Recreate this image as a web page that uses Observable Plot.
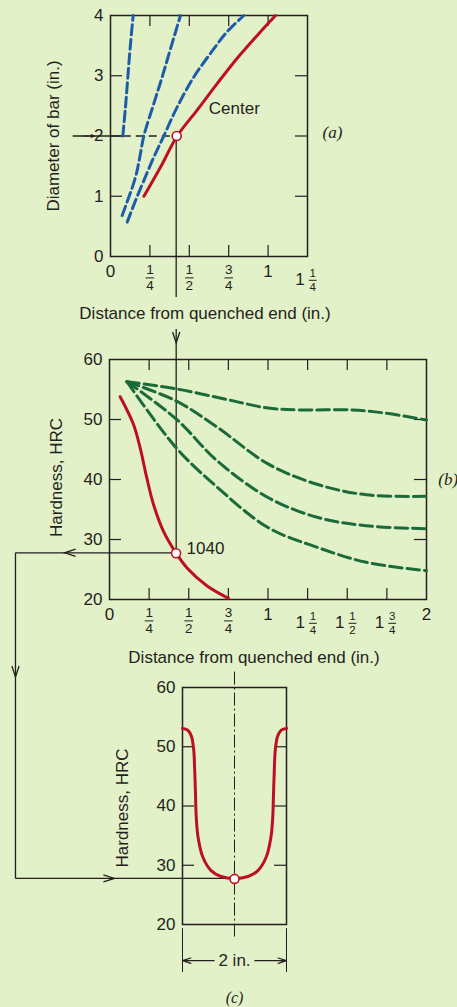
<!DOCTYPE html>
<html>
<head>
<meta charset="utf-8">
<script src="https://cdn.jsdelivr.net/npm/d3@7"></script>
<script src="https://cdn.jsdelivr.net/npm/@observablehq/plot@0.6"></script>
<style>
html, body { margin: 0; padding: 0; background: #E3F1C8; overflow: hidden; }
#wrap { position: relative; width: 457px; height: 1007px; background: #E3F1C8; overflow: hidden; }
#wrap svg.panel { position: absolute; left: 0; z-index: 1; }
#wrap svg.overlay { position: absolute; left: 0; top: 0; z-index: 0; }
</style>
</head>
<body>
<div id="wrap"></div>
<script>
// ---------------- DATA ----------------
// Panel (a): bar diameter (in.) vs equivalent Jominy distance (in.)
const aXTicks = [0, 0.25, 0.5, 0.75, 1, 1.25];
const aXLabels = ["0", "1/4", "1/2", "3/4", "1", "1 1/4"];
const aYTicks = [0, 1, 2, 3, 4];
const aInnerX = [0.25, 0.5, 0.75, 1];
const aInnerY = [1, 2, 3];
const aCenter = [[0.212, 1], [0.317, 1.48], [0.423, 2], [0.55, 2.43], [0.677, 2.87], [0.804, 3.29], [0.931, 3.67], [1.047, 4]];
const aBlue1 = [[0.078, 2.0], [0.095, 2.48], [0.110, 2.98], [0.127, 3.53], [0.144, 4]];
const aBlue2 = [[0.074, 0.68], [0.095, 0.83], [0.159, 1.32], [0.186, 1.65], [0.2115, 2], [0.275, 2.54], [0.328, 2.98], [0.381, 3.45], [0.444, 4]];
const aBlue3 = [[0.106, 0.57], [0.159, 0.93], [0.2115, 1.26], [0.275, 1.65], [0.338, 2], [0.423, 2.48], [0.529, 2.98], [0.634, 3.37], [0.74, 3.73], [0.846, 4]];
const aGuideDiameter = 2;
const aGuideDistance = 0.42;

// Panel (b): Jominy hardness curves
const bXTicks = [0, 0.25, 0.5, 0.75, 1, 1.25, 1.5, 1.75, 2];
const bXLabels = ["0", "1/4", "1/2", "3/4", "1", "1 1/4", "1 1/2", "1 3/4", "2"];
const bYTicks = [20, 30, 40, 50, 60];
const bInnerX = [0.25, 0.5, 0.75, 1, 1.25, 1.5, 1.75];
const bInnerY = [30, 40, 50];
const b1040 = [[0.0675, 53.8], [0.151, 49.2], [0.193, 45.3], [0.235, 40.3], [0.277, 35.9], [0.34, 31.4], [0.421, 27.7], [0.488, 25.3], [0.614, 22.3], [0.751, 20.2]];
const bAlloy1 = [[0.11, 56.3], [0.42, 55.1], [0.78, 53.1], [1.0, 51.9], [1.2, 51.6], [1.52, 51.6], [1.73, 51.1], [2.0, 49.9]];
const bAlloy2 = [[0.11, 56.3], [0.42, 53.1], [0.68, 48.7], [1.0, 42.6], [1.31, 39.2], [1.62, 37.45], [2.0, 37.2]];
const bAlloy3 = [[0.11, 56.3], [0.42, 50.1], [0.68, 43.1], [1.0, 37.0], [1.31, 33.7], [1.62, 32.3], [2.0, 31.8]];
const bAlloy4 = [[0.11, 56.3], [0.42, 45.3], [0.68, 38.7], [1.0, 32.0], [1.31, 28.7], [1.62, 26.2], [2.0, 24.8]];
const bGuideHardness = 27.7;

// Panel (c): radial hardness profile across a 2-in. bar
const cYTicks = [20, 30, 40, 50, 60];
const cInnerY = [30, 40, 50];
const cPos  = [-1, -0.9, -0.83, -0.785, -0.765, -0.75, -0.735, -0.70, -0.61, -0.45, -0.26, 0, 0.26, 0.45, 0.61, 0.70, 0.735, 0.75, 0.765, 0.785, 0.83, 0.9, 1];
const cHard = [53.1, 52.8, 51.8, 49.5, 46, 42, 38, 34.7, 31.4, 29.1, 28.1, 27.75, 28.1, 29.1, 31.4, 34.7, 38, 42, 46, 49.5, 51.8, 52.8, 53.1];

// ---------------- STYLE / LAYOUT ----------------
const FONT = '"Liberation Sans", Arial, Helvetica, sans-serif';
const SERIF = '"Liberation Serif", "DejaVu Serif", serif';
const INK = "#231F20";
const RED = "#BC1020";
const BLUE = "#1D5CA9";
const GREEN = "#1A6A3A";
const W = 457;
const LA = {top: 0, height: 330, mt: 15, mb: 74, ml: 110, mr: 150, x: [0, 1.25], y: [0, 4]};
const LB = {top: 330, height: 340, mt: 29, mb: 71, ml: 109, mr: 31, x: [0, 2], y: [20, 60]};
const LC = {top: 670, height: 337, mt: 17, mb: 83, ml: 182, mr: 171, x: [-1, 1], y: [20, 60]};
const kx = L => (W - L.ml - L.mr) / (L.x[1] - L.x[0]);
const ky = L => (L.height - L.mt - L.mb) / (L.y[1] - L.y[0]);
const TICK = 12, FS = 17, FFS = 13.5, MFS = 11.5;

const pts = arr => arr.map(([x, y]) => ({x, y}));

function xTickLabels(ticks, labels, L) {
  const k = kx(L), y0 = L.y[0];
  const rows = ticks.map((v, i) => {
    const parts = labels[i].split(" ");
    const last = parts[parts.length - 1];
    const frac = last.includes("/") ? last.split("/") : null;
    return {v, whole: frac ? (parts.length > 1 ? parts[0] : "") : last, num: frac ? frac[0] : "", den: frac ? frac[1] : ""};
  });
  const pure = rows.filter(d => !d.num), fr = rows.filter(d => d.num && !d.whole), mx = rows.filter(d => d.num && d.whole);
  const c = {frameAnchor: "bottom", lineAnchor: "middle", textAnchor: "middle", fill: INK};
  return [
    Plot.text(pure, {...c, x: "v", text: "whole", dy: 15.5, fontSize: FS}),
    Plot.text(mx, {...c, x: "v", text: "whole", dy: 23, dx: -7.5, fontSize: FS}),
    Plot.text(fr, {...c, x: "v", text: "num", dy: 13.5, fontSize: FFS}),
    Plot.text(fr, {...c, x: "v", text: "den", dy: 29.2, fontSize: FFS}),
    Plot.text(mx, {...c, x: "v", text: "num", dy: 17, dx: 5.3, fontSize: MFS}),
    Plot.text(mx, {...c, x: "v", text: "den", dy: 30.6, dx: 5.3, fontSize: MFS}),
    Plot.link(fr, {x1: d => d.v - 4.3 / k, x2: d => d.v + 4.3 / k, y1: y0, y2: y0, dy: 21.4, stroke: INK, strokeWidth: 1}),
    Plot.link(mx, {x1: d => d.v + 1.4 / k, x2: d => d.v + 9.2 / k, y1: y0, y2: y0, dy: 23.8, stroke: INK, strokeWidth: 1})
  ];
}

function innerTicks(L, xs, ys, sides) {
  const lx = TICK / kx(L), ly = (TICK - 1) / ky(L);
  const m = [];
  if (sides.includes("b")) m.push(Plot.ruleX(xs, {y1: L.y[0], y2: L.y[0] + ly, stroke: INK, strokeWidth: 1.2}));
  if (sides.includes("t")) m.push(Plot.ruleX(xs, {y1: L.y[1], y2: L.y[1] - ly, stroke: INK, strokeWidth: 1.2}));
  if (sides.includes("l")) m.push(Plot.ruleY(ys, {x1: L.x[0], x2: L.x[0] + lx, stroke: INK, strokeWidth: 1.2}));
  if (sides.includes("r")) m.push(Plot.ruleY(ys, {x1: L.x[1], x2: L.x[1] - lx, stroke: INK, strokeWidth: 1.2}));
  return m;
}

function base(L) {
  return {
    width: W, height: L.height,
    marginTop: L.mt, marginBottom: L.mb, marginLeft: L.ml, marginRight: L.mr,
    style: {background: "transparent", fontFamily: FONT, fontSize: FS + "px", color: INK, overflow: "visible"},
    x: {domain: L.x, axis: null},
    y: {domain: L.y}
  };
}
const yTitle = (t, dx, dy) => Plot.text([t], {text: d => d, frameAnchor: "left", textAnchor: "middle", lineAnchor: "middle", rotate: -90, dx, dy, fontSize: FS, fill: INK});
const xTitle = (t, dx, dy) => Plot.text([t], {text: d => d, frameAnchor: "bottom", textAnchor: "middle", lineAnchor: "middle", dx, dy, fontSize: FS, fill: INK});

// ---------------- PANEL (a) ----------------
const A = Plot.plot({
  ...base(LA),
  marks: [
    Plot.frame({stroke: INK, strokeWidth: 1.5}),
    ...innerTicks(LA, aInnerX, aInnerY, "btlr"),
    Plot.axisY({ticks: aYTicks, tickSize: 0, tickPadding: 7, fontSize: FS, label: null, tickFormat: d => String(d)}),
    ...xTickLabels(aXTicks, aXLabels, LA),
    yTitle("Diameter of bar (in.)", -57, 0),
    xTitle("Distance from quenched end (in.)", -4, 57),
    // guide from diameter axis
    Plot.link([aGuideDiameter], {x1: -0.24, x2: aBlue1[0][0], y1: d => d, y2: d => d, stroke: INK, strokeWidth: 1.3}),
    Plot.arrow([aGuideDiameter], {x1: -0.17, x2: -0.10, y1: d => d, y2: d => d, stroke: INK, strokeWidth: 1.2, headLength: 11, headAngle: 40}),
    Plot.link([aGuideDiameter], {x1: aBlue1[0][0], x2: aGuideDistance, y1: d => d, y2: d => d, stroke: INK, strokeWidth: 1.3, strokeDasharray: "8,5"}),
    Plot.line(pts(aBlue1), {x: "x", y: "y", stroke: BLUE, strokeWidth: 3, strokeDasharray: "10,4.5", curve: "catmull-rom"}),
    Plot.line(pts(aBlue2), {x: "x", y: "y", stroke: BLUE, strokeWidth: 3, strokeDasharray: "10,4.5", curve: "catmull-rom"}),
    Plot.line(pts(aBlue3), {x: "x", y: "y", stroke: BLUE, strokeWidth: 3, strokeDasharray: "10,4.5", curve: "catmull-rom"}),
    Plot.line(pts(aCenter), {x: "x", y: "y", stroke: RED, strokeWidth: 3, curve: "catmull-rom"}),
    Plot.text(["Center"], {x: 0.624, y: 2.46, text: d => d, textAnchor: "start", fontSize: FS, fill: INK}),
    Plot.dot([[aGuideDistance, aGuideDiameter]], {x: d => d[0], y: d => d[1], r: 4.5, fill: "white", stroke: RED, strokeWidth: 1.6}),
    Plot.text(["(a)"], {x: 1.345, y: 2, dy: -3, text: d => d, textAnchor: "start", fontSize: FS, fontStyle: "italic", fontFamily: SERIF, fill: INK})
  ]
});

// ---------------- PANEL (b) ----------------
const B = Plot.plot({
  ...base(LB),
  marks: [
    Plot.frame({stroke: INK, strokeWidth: 1.5}),
    ...innerTicks(LB, bInnerX, bInnerY, "btlr"),
    Plot.axisY({ticks: bYTicks, tickSize: 0, tickPadding: 7, fontSize: FS, label: null}),
    ...xTickLabels(bXTicks, bXLabels, LB),
    yTitle("Hardness, HRC", -52.5, -2),
    xTitle("Distance from quenched end (in.)", -14, 58),
    Plot.line(pts(bAlloy1), {x: "x", y: "y", stroke: GREEN, strokeWidth: 3, strokeDasharray: "12.5,5", curve: "catmull-rom"}),
    Plot.line(pts(bAlloy2), {x: "x", y: "y", stroke: GREEN, strokeWidth: 3, strokeDasharray: "12.5,5", curve: "catmull-rom"}),
    Plot.line(pts(bAlloy3), {x: "x", y: "y", stroke: GREEN, strokeWidth: 3, strokeDasharray: "12.5,5", curve: "catmull-rom"}),
    Plot.line(pts(bAlloy4), {x: "x", y: "y", stroke: GREEN, strokeWidth: 3, strokeDasharray: "12.5,5", curve: "catmull-rom"}),
    Plot.line(pts(b1040), {x: "x", y: "y", stroke: RED, strokeWidth: 3, curve: "catmull-rom"}),
    Plot.text(["1040"], {x: aGuideDistance, y: bGuideHardness, dx: 10.5, dy: -4.5, text: d => d, textAnchor: "start", fontSize: FS, fill: INK}),
    Plot.dot([[aGuideDistance, bGuideHardness]], {x: d => d[0], y: d => d[1], r: 4.5, fill: "white", stroke: RED, strokeWidth: 1.6}),
    Plot.text(["(b)"], {x: 2.074, y: 39.95, text: d => d, textAnchor: "start", fontSize: FS, fontStyle: "italic", fontFamily: SERIF, fill: INK})
  ]
});

// ---------------- PANEL (c) ----------------
const cRows = cPos.map((x, i) => ({x, y: cHard[i]}));
const C = Plot.plot({
  ...base(LC),
  marks: [
    Plot.frame({stroke: INK, strokeWidth: 1.5}),
    ...innerTicks(LC, [], cInnerY, "lr"),
    Plot.axisY({ticks: cYTicks, tickSize: 0, tickPadding: 7, fontSize: FS, label: null}),
    yTitle("Hardness, HRC", -60, 2),
    // center line and dimension
    Plot.ruleX([0], {y1: 62.6, y2: 17.6, stroke: INK, strokeWidth: 1, strokeDasharray: "13,3,2,3"}),
    Plot.ruleX([-1, 1], {y1: 19.3, y2: 11.9, stroke: INK, strokeWidth: 1}),
    Plot.arrow([[-0.39, -1], [0.39, 1]], {x1: d => d[0], x2: d => d[1], y1: 13.9, y2: 13.9, stroke: INK, strokeWidth: 1.1, headLength: 12, headAngle: 36}),
    Plot.text(["2 in."], {x: 0, y: 13.9, text: d => d, fontSize: FS, fill: INK}),
    Plot.line(cRows, {x: "x", y: "y", stroke: RED, strokeWidth: 3, curve: "catmull-rom"}),
    Plot.dot([[0, bGuideHardness]], {x: d => d[0], y: d => d[1], r: 4.5, fill: "white", stroke: RED, strokeWidth: 1.6}),
    Plot.text(["(c)"], {x: 0, y: 7.6, text: d => d, fontSize: 16, fontStyle: "italic", fontFamily: SERIF, fill: INK})
  ]
});

// ---------------- ASSEMBLY + CONNECTORS ----------------
const wrap = document.getElementById("wrap");
const ax = v => A.scale("x").apply(v), ay = v => A.scale("y").apply(v) + LA.top;
const bx = v => B.scale("x").apply(v), by = v => B.scale("y").apply(v) + LB.top;
const cx = v => C.scale("x").apply(v), cy = v => C.scale("y").apply(v) + LC.top;

const ov = d3.create("svg").attr("class", "overlay").attr("width", W).attr("height", 1007);
const g = ov.append("g").attr("fill", "none").attr("stroke", INK).attr("stroke-width", 1.3);
const seg = (x1, y1, x2, y2) => g.append("line").attr("x1", x1).attr("y1", y1).attr("x2", x2).attr("y2", y2);
const head = (tx, ty, ux, uy) => {
  const L = 11, H = 3.6, px = -uy, py = ux;
  g.append("path").attr("d", `M${tx - ux * L + px * H},${ty - uy * L + py * H}L${tx},${ty}L${tx - ux * L - px * H},${ty - uy * L - py * H}`);
};
// annotation positions (data units of each panel)
const railDist = -0.59;          // panel (b) distance units, left rail
const aLabelGap = 16;
const xV = ax(aGuideDistance);
const yA = ay(aGuideDiameter);
const aLabelY = LA.top + LA.height - LA.mb + 57;
const yB = by(bGuideHardness);
const yC = cy(bGuideHardness);
const xRail = bx(railDist);
seg(xV, yA, xV, aLabelY - aLabelGap);
seg(xV, aLabelY + aLabelGap, xV, yB);
head(xV, LB.top + LB.mt - 16, 0, 1);
seg(xV, yB, xRail, yB);
head(bx(-0.28), yB, -1, 0);
seg(xRail, yB, xRail, yC);
head(xRail, cy(61.7), 0, 1);
seg(xRail, yC, cx(0), yC);
head(cx(-2.3), yC, 1, 0);

wrap.appendChild(ov.node());
for (const [svg, L] of [[A, LA], [B, LB], [C, LC]]) {
  svg.classList.add("panel");
  svg.style.top = L.top + "px";
  svg.style.position = "absolute";
  wrap.appendChild(svg);
}
</script>
</body>
</html>
